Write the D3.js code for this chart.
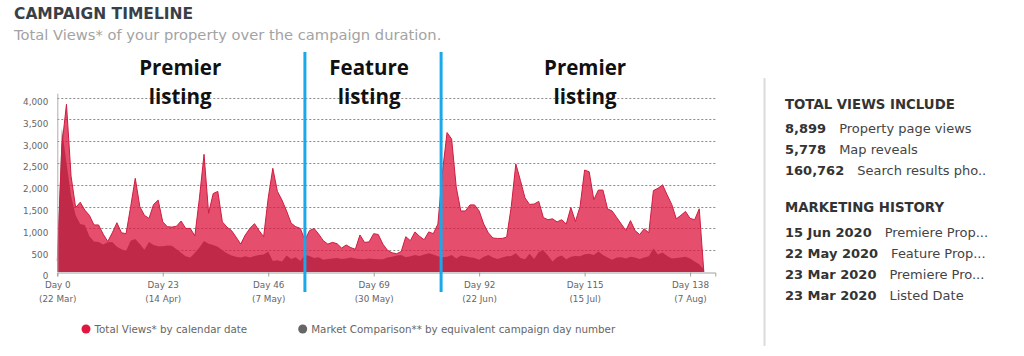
<!DOCTYPE html>
<html><head><meta charset="utf-8">
<script src="https://cdn.jsdelivr.net/npm/d3@7"></script>
<style>body{margin:0;background:#fff}svg{display:block}</style>
</head><body>
<svg id="c" width="1024" height="356"></svg>
<script>
// ---- data ----
const days = d3.range(0, 142);
const totalViews = [
 250,2900,3850,2200,1480,1600,1420,1300,1080,1080,
 870,700,900,1130,900,880,1500,2150,1500,1300,
 1230,1550,1650,1150,1040,1030,1050,1170,1000,1000,
 830,1700,2700,1350,1800,1850,1150,1030,950,800,
 640,850,1000,1110,950,810,1700,2380,1850,1650,
 1400,1120,1040,1000,730,950,1000,870,720,640,
 680,650,550,620,560,520,850,680,690,880,
 860,640,500,440,420,470,810,720,920,820,
 740,920,880,1100,2300,3200,3050,1950,1400,1400,
 1540,1540,1400,1100,900,780,770,770,800,1500,
 2480,2100,1700,1550,1560,1620,1250,1200,1220,1150,
 1200,1100,1480,1160,1500,2340,2300,1660,1880,1880,
 1450,1400,1250,1100,950,1180,950,860,990,900,
 1870,1920,2000,1770,1550,1220,1300,1390,1230,1200,
 1450,0
];
const marketComparison = [
 400,3300,2500,1750,1300,1100,1080,820,700,690,
 630,680,690,580,520,480,720,760,640,510,
 690,620,590,590,610,600,520,440,360,330,
 440,560,710,650,620,580,500,430,380,350,
 330,360,330,370,390,400,470,250,270,240,
 380,300,340,250,390,370,320,340,280,300,
 310,320,300,310,330,310,300,290,310,300,
 290,290,330,350,380,390,340,360,390,370,
 400,430,400,360,340,350,390,310,380,360,
 340,320,280,350,390,330,300,330,360,370,
 430,320,290,420,300,460,500,380,240,340,
 380,290,350,370,360,410,420,390,470,390,
 330,280,330,340,310,350,330,300,330,360,
 540,400,450,370,310,320,330,350,310,240,
 180,60
];
const yTicks = [0,500,1000,1500,2000,2500,3000,3500,4000];
const xTickDays = [0,23,46,69,92,115,138];
const xTickDates = ["22 Mar","14 Apr","7 May","30 May","22 Jun","15 Jul","7 Aug"];
const phaseBoundaryDays = [54, 83.7];
const phaseLabels = [["Premier","listing"],["Feature","listing"],["Premier","listing"]];
const phaseCenterDays = [26.8, 68, 115.1];
const summaryNumbers = ["8,899","5,778","160,762"];
const summaryLabels = ["Property page views","Map reveals","Search results pho.."];
const historyDates = ["15 Jun 2020","22 May 2020","23 Mar 2020","23 Mar 2020"];
const historyLabels = ["Premiere Prop...","Feature Prop...","Premiere Pro...","Listed Date"];
const legendItems = [
  {label:"Total Views* by calendar date", color:"#e0173f"},
  {label:"Market Comparison** by equivalent campaign day number", color:"#666666"}
];

// ---- layout ----
const svg = d3.select("#c");
const F = "DejaVu Sans, sans-serif";
const x = d3.scaleLinear().domain([0,143.5]).range([57.3,715.3]);
const y = d3.scaleLinear().domain([0,4000]).range([272,97.7]);

// title
svg.append("text").attr("x",14).attr("y",19).attr("font-family",F).attr("font-weight","bold")
  .attr("font-size",15.5).attr("fill","#3a3f47").text("CAMPAIGN TIMELINE");
svg.append("text").attr("x",14).attr("y",40).attr("font-family",F)
  .attr("font-size",14.7).attr("fill","#a3a3a3").text("Total Views* of your property over the campaign duration.");

// grid
svg.append("g").selectAll("line").data(yTicks.filter(d=>d>0)).join("line")
  .attr("x1",x.range()[0]).attr("x2",x.range()[1])
  .attr("y1",d=>Math.round(y(d))+0.5).attr("y2",d=>Math.round(y(d))+0.5)
  .attr("stroke","#8a8a8a").attr("stroke-dasharray","2,2");

// areas
const areaM = d3.area().x((d,i)=>x(days[i])).y0(y(0)).y1(d=>y(d));
svg.append("path").datum(marketComparison).attr("d",areaM).attr("fill","#6e6e6e");
svg.append("path").datum(totalViews).attr("d",areaM).attr("fill","#dc143c").attr("fill-opacity",0.75);
svg.append("path").datum(totalViews).attr("d",d3.line().x((d,i)=>x(days[i])).y(d=>y(d)))
  .attr("fill","none").attr("stroke","#d01c40").attr("stroke-width",1);

// y axis
const ya = svg.append("g").attr("transform",`translate(${x.range()[0]},0)`)
  .call(d3.axisLeft(y).tickValues(yTicks).tickSize(0).tickPadding(9).tickFormat(d3.format(",")));
ya.select(".domain").attr("stroke","#b0b0b0").attr("d",`M0.5,${y(4000)-4}V${y(0)}`);
ya.selectAll("text").attr("font-family",F).attr("font-size",8.8).attr("fill","#666").attr("dy","0.78em");

// x axis
const xa = svg.append("g").attr("transform",`translate(0,${Math.round(y(0))+0.5})`)
  .call(d3.axisBottom(x).tickValues(xTickDays).tickSize(4).tickPadding(5).tickFormat(d=>"Day "+d));
xa.select(".domain").attr("stroke","#a0a0a0");
xa.selectAll("line").attr("stroke","#a0a0a0");
xa.selectAll("text").attr("font-family",F).attr("font-size",8.8).attr("fill","#666");
xa.selectAll(".tick").append("text").attr("y",29).attr("fill","#666").attr("font-family",F)
  .attr("font-size",8.8).attr("text-anchor","middle").text((d,i)=>"("+xTickDates[i]+")");

// phase boundaries
svg.append("g").selectAll("line").data(phaseBoundaryDays).join("line")
  .attr("x1",d=>x(d)).attr("x2",d=>x(d)).attr("y1",52).attr("y2",292)
  .attr("stroke","#19a8ea").attr("stroke-width",3);
const pl = svg.append("g").selectAll("text").data(phaseLabels).join("text")
  .attr("font-family","Open Sans, sans-serif").attr("font-weight","bold").attr("font-size",20.5)
  .attr("fill","#111").attr("text-anchor","middle");
pl.each(function(d,i){
  const t = d3.select(this);
  t.append("tspan").attr("x",x(phaseCenterDays[i])).attr("y",75).text(d[0]);
  t.append("tspan").attr("x",x(phaseCenterDays[i])).attr("y",104).text(d[1]);
});

// legend
const lg = svg.append("g");
[86, 302.7].forEach((cx,i)=>{
  lg.append("circle").attr("cx",cx).attr("cy",329).attr("r",4.5).attr("fill",legendItems[i].color);
  lg.append("text").attr("x",cx+8.5).attr("y",332.5).attr("font-family",F).attr("font-size",10.3)
    .attr("fill","#666").text(legendItems[i].label);
});

// right panel
svg.append("line").attr("x1",764.5).attr("x2",764.5).attr("y1",78).attr("y2",346)
  .attr("stroke","#dcdcdc").attr("stroke-width",2);
function heading(txt,yy){
  svg.append("text").attr("x",785).attr("y",yy).attr("font-family",F).attr("font-weight","bold")
    .attr("font-size",13.3).attr("fill","#333").text(txt);
}
function row(a,b,yy){
  const t = svg.append("text").attr("x",785).attr("y",yy).attr("font-family",F).attr("font-size",13).attr("fill","#333");
  t.append("tspan").attr("font-weight","bold").text(a);
  t.append("tspan").attr("dx",13).attr("fill","#444").text(b);
}
heading("TOTAL VIEWS INCLUDE",109);
summaryNumbers.forEach((n,i)=>row(n,summaryLabels[i],133+i*21));
heading("MARKETING HISTORY",212);
historyDates.forEach((n,i)=>row(n,historyLabels[i],236.5+i*21.2));
</script>
</body></html>
